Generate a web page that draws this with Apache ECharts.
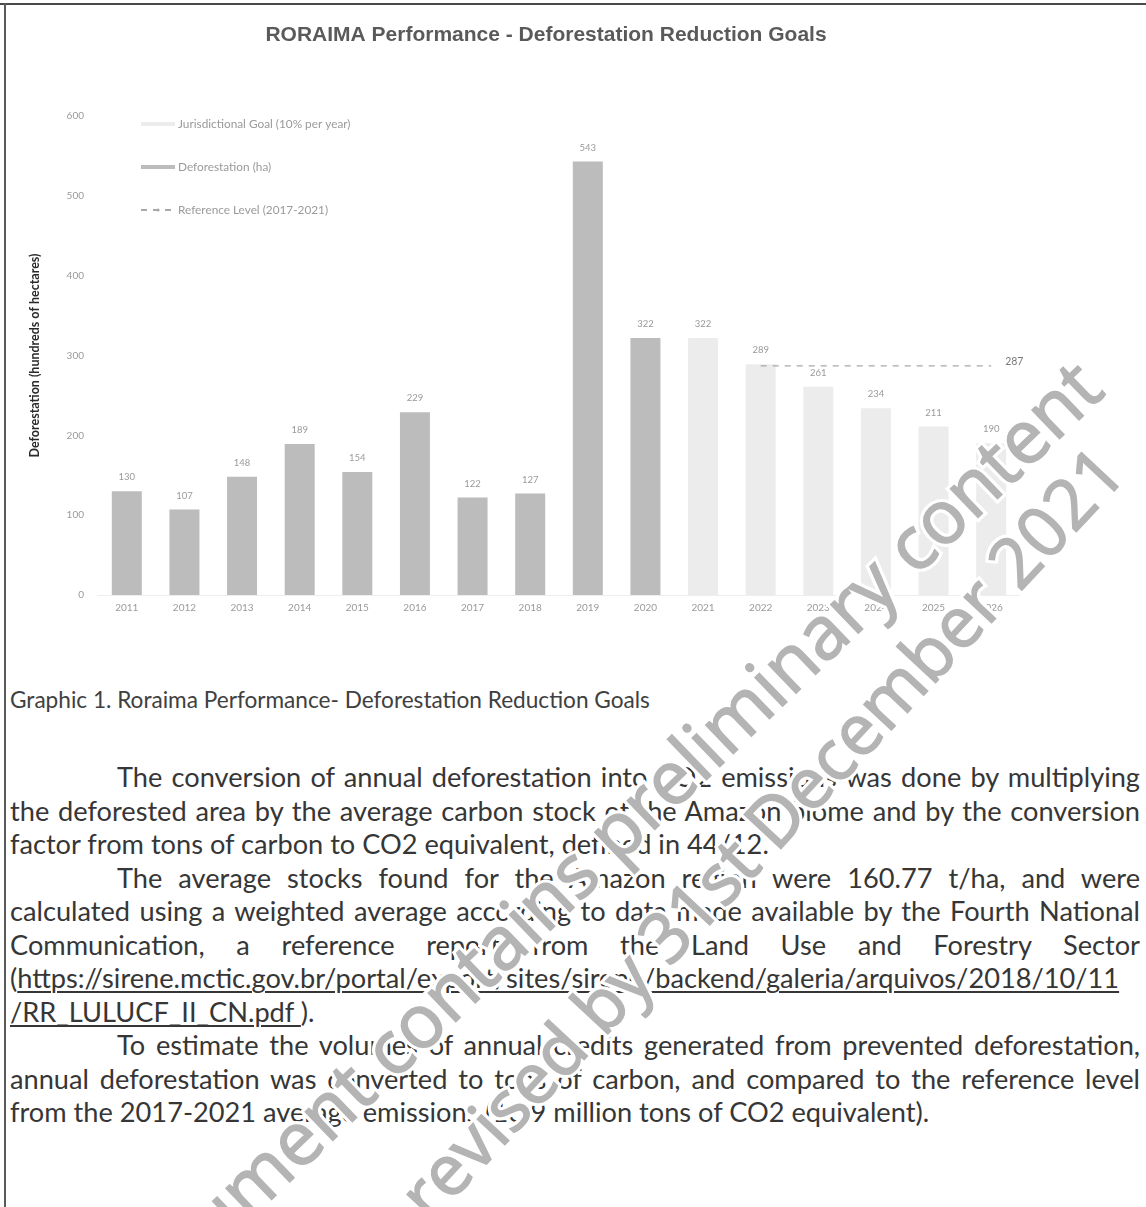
<!DOCTYPE html>
<html>
<head>
<meta charset="utf-8">
<script src="https://cdn.jsdelivr.net/npm/echarts@6/dist/echarts.min.js"></script>
<style>
  html, body { margin:0; padding:0; background:#fff; }
  #page { position:relative; width:1146px; height:1207px; overflow:hidden; background:#fff; }
  #chart { position:absolute; left:0; top:0; width:1146px; height:1207px; z-index:2; }
  .ln { position:absolute; left:10px; width:1130px; white-space:nowrap; color:#363636; font-family:Lato, "Open Sans", sans-serif; z-index:1; }
  .j { text-align:justify; text-align-last:justify; }
  .ind { padding-left:107px; width:1023px; }
  u { text-decoration-thickness:1.5px; text-underline-offset:3px; }
  #bt { position:absolute; left:0; top:3px; width:1146px; height:2px; background:#4a4a4a; z-index:1; }
  #bl { position:absolute; left:4px; top:3px; width:2px; height:1204px; background:#5a5a5a; z-index:1; }
</style>
</head>
<body>
<div id="page">
  <div id="bt"></div><div id="bl"></div>
  <div id="text"></div>
  <div id="chart"></div>
</div>
<script>
// ---- data ----
const years = ['2011','2012','2013','2014','2015','2016','2017','2018','2019','2020','2021','2022','2023','2024','2025','2026'];
const deforestation = [130,107,148,189,154,229,122,127,543,322,null,null,null,null,null,null];
const jurisdictionalGoal = [null,null,null,null,null,null,null,null,null,null,322,289,261,234,211,190];
const referenceLevel = [null,null,null,null,null,null,null,null,null,null,null,287,287,287,287,287];
const yTicks = [0,100,200,300,400,500,600];

const titleText = 'RORAIMA Performance - Deforestation Reduction Goals';
const legendNames = ['Jurisdictional Goal (10% per year)','Deforestation (ha)','Reference Level (2017-2021)'];
const yAxisTitle = 'Deforestation (hundreds of hectares)';
const captionText = 'Graphic 1. Roraima Performance- Deforestation Reduction Goals';
const watermark1 = 'This document contains preliminary content';
const watermark2 = 'revised by 31st December 2021';

// body text lines: [html, justified, indented]
const bodyLines = [
  ['The conversion of annual deforestation into CO2 emissions was done by multiplying', true, true],
  ['the deforested area by the average carbon stock of the Amazon biome and by the conversion', true, false],
  ['factor from tons of carbon to CO2 equivalent, defined in 44/12.', false, false],
  ['The average stocks found for the Amazon region were 160.77 t/ha, and were', true, true],
  ['calculated using a weighted average according to data made available by the Fourth National', true, false],
  ['Communication, a reference report from the Land Use and Forestry Sector', true, false],
  ['(<u>https://sirene.mctic.gov.br/portal/export/sites/sirene/backend/galeria/arquivos/2018/10/11</u>', true, false],
  ['<u>/RR_LULUCF_II_CN.pdf </u>).', false, false],
  ['To estimate the volumes of annual credits generated from prevented deforestation,', true, true],
  ['annual deforestation was converted to tons of carbon, and compared to the reference level', true, false],
  ['from the 2017-2021 average emissions (16.9 million tons of CO2 equivalent).', false, false]
];

// ---- text layout ----
const ctx = document.createElement('canvas').getContext('2d');
function w(t, size) { ctx.font = size + 'px Lato'; return ctx.measureText(t.replace(/<[^>]+>/g,'')).width; }
const lastLine = bodyLines[bodyLines.length-1][0];
let fs = 100 * 920 / w(lastLine, 100);
bodyLines.forEach(l => { const avail = l[2] ? 1023 : 1130; const nw = w(l[0], fs); if (nw > avail) fs = fs * avail / nw; });
const textDiv = document.getElementById('text');
const lh = 33.5, firstY = 777;
bodyLines.forEach((l, i) => {
  const d = document.createElement('div');
  d.className = 'ln' + (l[1] ? ' j' : '') + (l[2] ? ' ind' : '');
  d.style.top = (firstY + i * lh - lh / 2) + 'px';
  d.style.height = lh + 'px';
  d.style.lineHeight = lh + 'px';
  d.style.fontSize = fs.toFixed(2) + 'px';
  d.innerHTML = l[0];
  textDiv.appendChild(d);
});
const cap = document.createElement('div');
cap.className = 'ln';
const cfs = 100 * 640 / w(captionText, 100);
cap.style.fontSize = cfs.toFixed(2) + 'px';
cap.style.top = (700 - 15) + 'px';
cap.style.lineHeight = '30px';
cap.style.color = '#404040';
cap.textContent = captionText;
textDiv.appendChild(cap);

// ---- chart ----
const chart = echarts.init(document.getElementById('chart'), null, {renderer:'canvas'});
const lblStyle = { color: '#9a9a9a', fontSize: 9.5, fontFamily: 'Lato, sans-serif' };
function wm(text, x, y, deg, size, z) {
  const base = { type: 'text', x: x, y: y, rotation: deg * Math.PI / 180, silent: true };
  const font = size + 'px "Open Sans", sans-serif';
  return [
    Object.assign({}, base, { z: z, style: { text: text, font: font, fill: '#ffffff', stroke: '#ffffff', lineWidth: 8, textAlign: 'right', textVerticalAlign: 'middle' } }),
    Object.assign({}, base, { z: z + 1, style: { text: text, font: font, fill: '#b4b4b4', stroke: '#b4b4b4', lineWidth: 1.6, textAlign: 'right', textVerticalAlign: 'middle' } })
  ];
}
const option = {
  animation: false,
  backgroundColor: 'transparent',
  title: {
    text: titleText, left: 541, top: 20, textAlign: 'center',
    textStyle: { fontFamily: 'Liberation Sans, Arial', fontWeight: 'bold', fontSize: 21, color: '#5a5a5a' }
  },
  legend: {
    orient: 'vertical', left: 140, top: 118, itemGap: 31, padding: 0,
    itemWidth: 34, itemHeight: 4,
    textStyle: { fontFamily: 'Lato, sans-serif', fontSize: 11.8, color: '#9a9a9a', padding: [0, 0, 0, -2] },
    data: [
      { name: legendNames[0], icon: 'rect' },
      { name: legendNames[1], icon: 'rect' },
      { name: legendNames[2] }
    ]
  },
  grid: { left: 98, right: 126, top: 116, bottom: 612, containLabel: false },
  xAxis: {
    type: 'category', data: years, boundaryGap: true,
    axisLine: { show: true, lineStyle: { color: '#eeeeee' } },
    axisTick: { show: false },
    axisLabel: Object.assign({ margin: 8 }, lblStyle, { fontSize: 10 })
  },
  yAxis: {
    type: 'value', min: yTicks[0], max: yTicks[yTicks.length-1], interval: 100,
    name: yAxisTitle, nameLocation: 'middle', nameGap: 57,
    nameTextStyle: { fontFamily: 'Lato, sans-serif', fontWeight: 'bold', fontSize: 12.5, color: '#2a2a2a' },
    axisLine: { show: false }, axisTick: { show: false },
    splitLine: { show: false },
    axisLabel: Object.assign({ margin: 14 }, lblStyle, { fontSize: 10 })
  },
  series: [
    {
      name: legendNames[0], type: 'bar', data: jurisdictionalGoal, barWidth: 30, barGap: '-100%',
      itemStyle: { color: '#ececec' },
      label: Object.assign({ show: true, position: 'top', distance: 9 }, lblStyle)
    },
    {
      name: legendNames[1], type: 'bar', data: deforestation, barWidth: 30, barGap: '-100%',
      itemStyle: { color: '#bcbcbc' },
      label: Object.assign({ show: true, position: 'top', distance: 9 }, lblStyle)
    },
    {
      name: legendNames[2], type: 'line', symbol: 'none', z: 5,
      data: referenceLevel,
      lineStyle: { color: '#a8a8a8', width: 1.2, type: [6, 6] },
      itemStyle: { color: '#a8a8a8' },
      endLabel: Object.assign({ show: true, distance: 14, offset: [0, -4], formatter: p => String(p.value) }, lblStyle, { color: '#7a7a7a', fontSize: 10.5 })
    }
  ],
  graphic: [].concat(
    wm(watermark1, 1092, 378, 44, 74, 100),
    wm(watermark2, 1114, 462, 47, 70, 100)
  )
};
chart.setOption(option);
</script>
</body>
</html>
